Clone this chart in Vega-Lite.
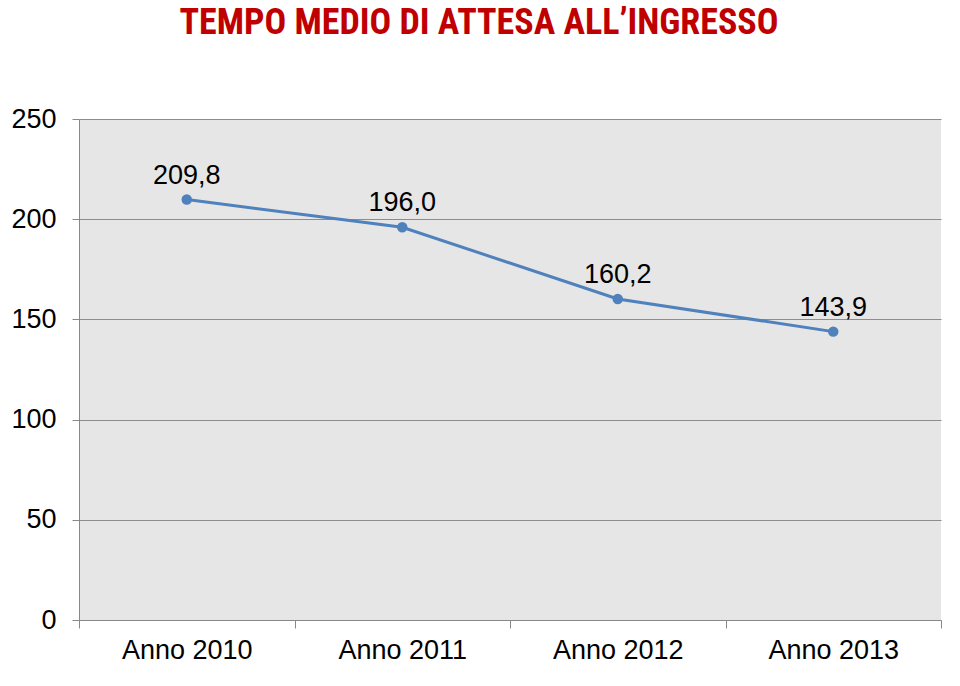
{
  "$schema": "https://vega.github.io/schema/vega-lite/v6.json",
  "width": 862,
  "height": 501,
  "autosize": "none",
  "padding": {"left": 79, "top": 119, "right": 19, "bottom": 66},
  "background": "white",
  "config": {
    "locale": {"number": {"decimal": ",", "thousands": ".", "grouping": [3], "currency": ["", " €"]}},
    "view": {"fill": "#e6e6e6", "stroke": null},
    "font": "Liberation Sans"
  },
  "title": {
    "text": "TEMPO MEDIO DI ATTESA ALL’INGRESSO",
    "font": "Liberation Sans Narrow, Roboto Condensed, Liberation Sans",
    "fontSize": 36,
    "fontWeight": "bold",
    "color": "#c00000",
    "anchor": "middle",
    "frame": "group",
    "baseline": "alphabetic",
    "offset": 35,
    "dx": -31
  },
  "data": {
    "values": [
      {"anno": "Anno 2010", "valore": 209.8},
      {"anno": "Anno 2011", "valore": 196.0},
      {"anno": "Anno 2012", "valore": 160.2},
      {"anno": "Anno 2013", "valore": 143.9}
    ]
  },
  "encoding": {
    "x": {
      "field": "anno",
      "type": "ordinal",
      "scale": {"type": "band", "paddingInner": 0, "paddingOuter": 0},
      "axis": {
        "title": null,
        "labelAngle": 0,
        "labelFontSize": 27,
        "labelColor": "#000000",
        "labelFont": "Liberation Sans",
        "labelPadding": 9,
        "tickBand": "extent",
        "tickSize": 8,
        "tickColor": "#888888",
        "domainColor": "#888888",
        "grid": false
      }
    },
    "y": {
      "field": "valore",
      "type": "quantitative",
      "scale": {"domain": [0, 250], "nice": false},
      "axis": {
        "title": null,
        "values": [0, 50, 100, 150, 200, 250],
        "labelFontSize": 27,
        "labelColor": "#000000",
        "labelFont": "Liberation Sans",
        "labelPadding": 16,
        "tickSize": 7,
        "tickColor": "#888888",
        "domainColor": "#888888",
        "grid": true,
        "gridColor": "#8c8c8c",
        "gridWidth": 1,
        "format": "d"
      }
    }
  },
  "layer": [
    {
      "mark": {"type": "line", "color": "#4f81bd", "strokeWidth": 3}
    },
    {
      "mark": {"type": "point", "filled": true, "color": "#4f81bd", "size": 110, "opacity": 1}
    },
    {
      "mark": {"type": "text", "fontSize": 27, "baseline": "alphabetic", "dy": -16, "color": "#000000", "font": "Liberation Sans"},
      "encoding": {"text": {"field": "valore", "type": "quantitative", "format": ".1f"}}
    }
  ]
}
